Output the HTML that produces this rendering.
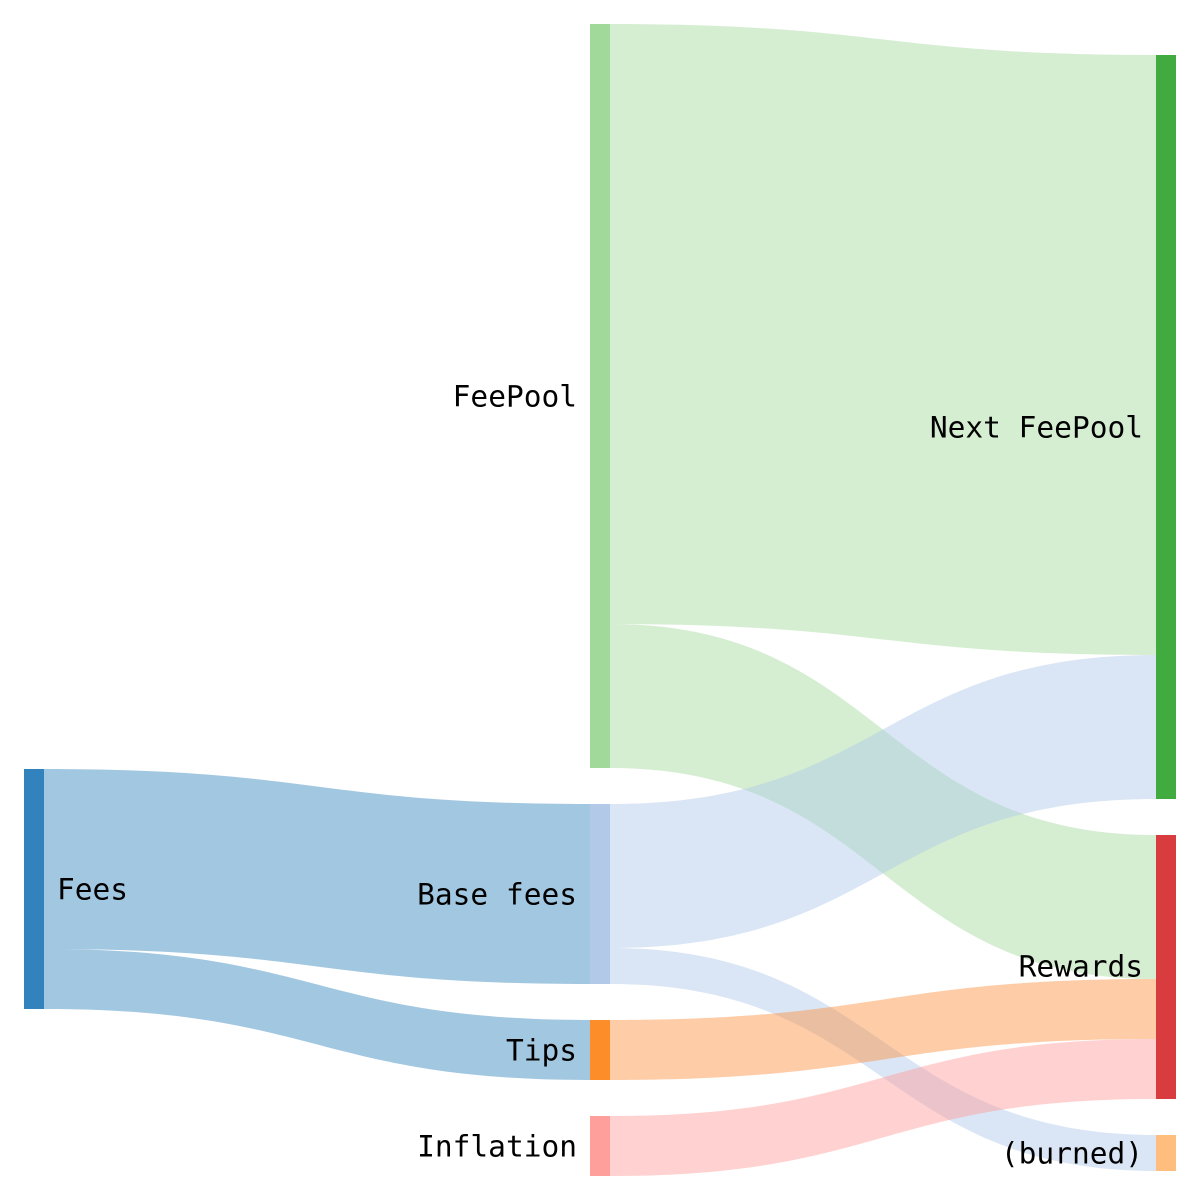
<!DOCTYPE html>
<html><head><meta charset="utf-8"><style>
html,body{margin:0;padding:0;background:#fff;}
svg{display:block}
text{font-family:"DejaVu Sans Mono","Liberation Mono",monospace;font-size:29.5px;fill:#000;dominant-baseline:middle}
</style></head><body>
<svg width="1200" height="1200" viewBox="0 0 1200 1200" xmlns="http://www.w3.org/2000/svg">
<g fill-opacity="0.45">
<path d="M44,769 C317,769 317,804 590,804 L590,984 C317,984 317,949 44,949 Z" fill="#3182bd"/>
<path d="M44,949 C317,949 317,1020 590,1020 L590,1080 C317,1080 317,1009 44,1009 Z" fill="#3182bd"/>
<path d="M610,24 C883,24 883,55 1156,55 L1156,655 C883,655 883,624 610,624 Z" fill="#a1d99b"/>
<path d="M610,624 C883,624 883,835 1156,835 L1156,979 C883,979 883,768 610,768 Z" fill="#a1d99b"/>
<path d="M610,804 C883,804 883,655 1156,655 L1156,799 C883,799 883,948 610,948 Z" fill="#aec7e8"/>
<path d="M610,948 C883,948 883,1135 1156,1135 L1156,1171 C883,1171 883,984 610,984 Z" fill="#aec7e8"/>
<path d="M610,1020 C883,1020 883,979 1156,979 L1156,1039 C883,1039 883,1080 610,1080 Z" fill="#fd8d3c"/>
<path d="M610,1116 C883,1116 883,1039 1156,1039 L1156,1099 C883,1099 883,1176 610,1176 Z" fill="#ff9896"/>
</g>
<rect x="24" y="769" width="20" height="240" fill="#3182bd"/>
<rect x="590" y="24" width="20" height="744" fill="#a1d99b"/>
<rect x="590" y="804" width="20" height="180" fill="#b3c9e8"/>
<rect x="590" y="1020" width="20" height="60" fill="#fd8d28"/>
<rect x="590" y="1116" width="20" height="60" fill="#ff9f9c"/>
<rect x="1156" y="55" width="20" height="744" fill="#41ab40"/>
<rect x="1156" y="835" width="20" height="264" fill="#d83c3e"/>
<rect x="1156" y="1135" width="20" height="36" fill="#ffbe7e"/>
<text x="57" y="891">Fees</text>
<text x="577" y="398" text-anchor="end">FeePool</text>
<text x="577" y="896" text-anchor="end">Base fees</text>
<text x="577" y="1052" text-anchor="end">Tips</text>
<text x="577" y="1148" text-anchor="end">Inflation</text>
<text x="1143" y="429" text-anchor="end">Next FeePool</text>
<text x="1143" y="968" text-anchor="end">Rewards</text>
<text x="1143" y="1155" text-anchor="end">(burned)</text>
</svg>
</body></html>
